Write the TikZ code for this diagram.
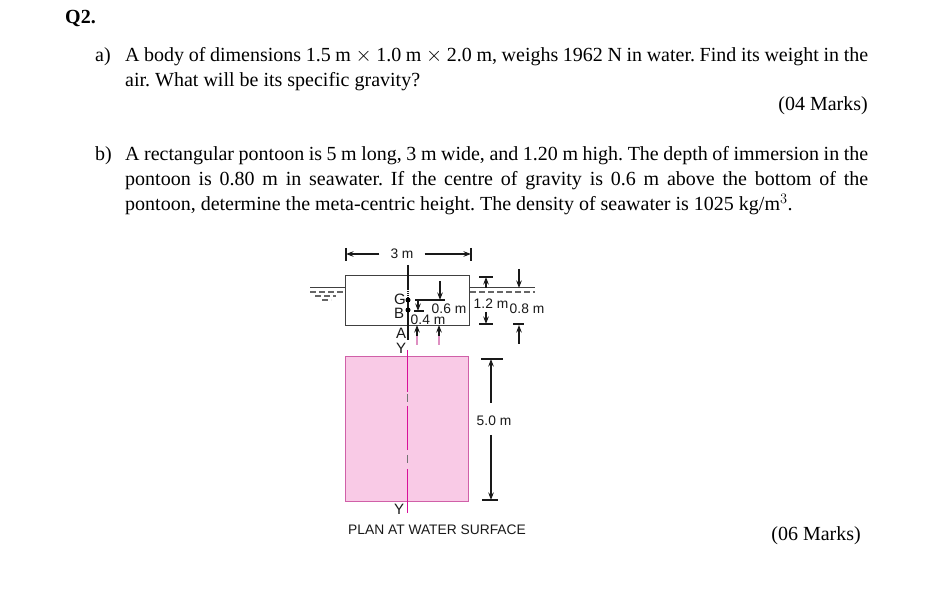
\documentclass[tikz,border=0pt]{standalone}
\usepackage{fontspec}
\usetikzlibrary{arrows.meta}
\setmainfont{Liberation Serif}
\setsansfont{Liberation Sans}
\frenchspacing
\definecolor{planfill}{HTML}{F9CAE6}
\definecolor{planedge}{HTML}{D060A8}
\definecolor{axiscolor}{HTML}{D8109A}
\tikzset{
  para/.style={anchor=base west,inner sep=0pt,font=\fontsize{20}{25}\selectfont},
  marks/.style={anchor=base east,inner sep=0pt,font=\fontsize{20}{25}\selectfont},
  dimlabel/.style={inner sep=0pt,font=\sffamily\fontsize{13.8}{16}\selectfont,text=black!90},
  pointlabel/.style={dimlabel,font=\sffamily\fontsize{15}{16}\selectfont},
  dimline/.style={black!90,line width=1.1pt},
  waterline/.style={black!60,line width=1.1pt,dash pattern=on 6pt off 3pt},
  axisline/.style={axiscolor,line width=1.6pt}
}
\newcommand{\fullline}[1]{\makebox[743pt][s]{#1}}
\begin{document}
\begin{tikzpicture}[x=1pt,y=-1pt,>={Stealth[length=7.5pt,width=5.5pt]}]
\useasboundingbox[fill=white] (0,0) rectangle (946,593);
%Question text
\node[para,font=\fontsize{20}{25}\selectfont\bfseries] (qhead) at (65,24) {Q2.};
\node[para] (parta) at (95,62) {a)};
\node[para] (partaone) at (125,62) {\fullline{A body of dimensions 1.5 m $\times$ 1.0 m $\times$ 2.0 m, weighs 1962 N in water. Find its weight in the}};
\node[para] (partatwo) at (125,87) {air. What will be its specific gravity?};
\node[marks] (marksa) at (868,111) {(04 Marks)};
\node[para] (partb) at (95,161) {b)};
\node[para] (partbone) at (125,161) {\fullline{A rectangular pontoon is 5 m long, 3 m wide, and 1.20 m high. The depth of immersion in the}};
\node[para] (partbtwo) at (125,186) {\fullline{pontoon is 0.80 m in seawater. If the centre of gravity is 0.6 m above the bottom of the}};
\node[para] (partbthree) at (125,211) {pontoon, determine the meta-centric height. The density of seawater is 1025 kg/m$^{3}$.};
\node[marks] (marksb) at (861,540) {(06 Marks)};

%Pontoon section and water surface
\draw[black!75,line width=0.9pt] (345,275) rectangle (469,325);
\draw[black!75,line width=1pt] (310,288) -- (345,288) (469,288) -- (535,288);
\draw[waterline] (310,292) -- (345,292) (470,292) -- (535,292);
\draw[waterline] (315,296) -- (336,296);
\draw[waterline] (322,300) -- (331,300);

%Plan of the pontoon
\draw[draw=planedge,fill=planfill,line width=0.9pt] (345,356) rectangle (468,501);

%Centre line through both views
\draw[dimline] (408,265) -- (408,289);
\draw[dimline,densely dotted] (408,289) -- (408,298);
\draw[dimline] (408,300) -- (408,340);
\foreach \ystart/\yend in {350/392,406/450,469/513}
  {
  \draw[axisline] (407.5,\ystart) -- (407.5,\yend);
  }
\draw[black!55,line width=1.1pt] (407.5,394) -- (407.5,402);
\draw[black!55,line width=1.1pt] (407.5,455) -- (407.5,463);
\fill[black] (408,300) circle (2.5pt);
\fill[black] (408,310) circle (2.5pt);

%Width of the pontoon
\node[dimlabel] (widthlabel) at (402,254) {3 m};
\coordinate (widthleft) at (346,254);
\coordinate (widthright) at (471,254);
\draw[dimline,->] (widthlabel.west) ++(-11,0) -- (widthleft);
\draw[dimline,->] (widthlabel.east) ++(11,0) -- (widthright);
\draw[dimline] (346,248) -- (346,261) (471,248) -- (471,261);

%Heights of G and B above the bottom
\draw[dimline] (415,300) -- (445,300) (414,311) -- (424,311);
\draw[dimline,->] (440,281) -- (440,300);
\draw[dimline,->] (418,300) -- (418,311);
\foreach \xpos in {417,439}
  {
  \draw[planedge!70,line width=1.1pt] (\xpos,336) -- (\xpos,345);
  \draw[dimline,->] (\xpos,336) -- (\xpos,325);
  }

%Total height and immersion on the right
\draw[dimline] (479,277) -- (493,277) (479,324) -- (493,324) (513,324) -- (524,324);
\draw[dimline,->] (486,288) -- (486,277);
\draw[dimline,->] (486,312) -- (486,324);
\draw[dimline,->] (519,269) -- (519,288);
\draw[dimline,->] (519,344) -- (519,325);

%Length of the plan
\node[dimlabel] (lengthlabel) at (494,421) {5.0 m};
\coordinate (lengthtop) at (491,359);
\coordinate (lengthbottom) at (491,500);
\draw[dimline,->] (491,403) -- (lengthtop);
\draw[dimline,->] (491,435) -- (lengthbottom);
\draw[dimline] (481,359) -- (503,359) (482,500) -- (498,500);

%Labels of the views
\node[pointlabel] (pointg) at (400,299) {G};
\node[pointlabel] (pointb) at (399,313) {B};
\node[pointlabel] (pointa) at (401,333) {A};
\node[pointlabel] (axistop) at (401,348) {Y};
\node[pointlabel] (axisbottom) at (399,509) {Y};
\node[dimlabel] (gheight) at (449,309) {0.6 m};
\node[dimlabel] (bheight) at (428,320) {0.4 m};
\node[dimlabel] (fullheight) at (491,304) {1.2 m};
\node[dimlabel] (immersion) at (527,309) {0.8 m};
\node[dimlabel] (plantitle) at (437,530) {PLAN AT WATER SURFACE};
\end{tikzpicture}
\end{document}
